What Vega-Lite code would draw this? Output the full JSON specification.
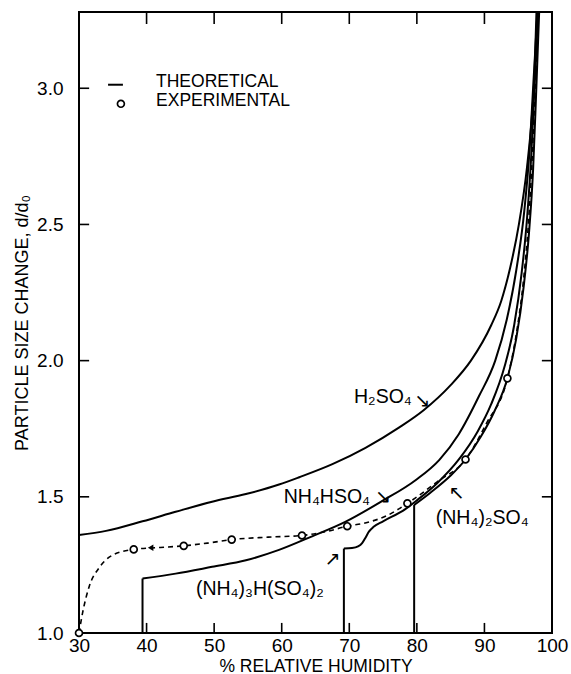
{
  "$schema": "https://vega.github.io/schema/vega-lite/v6.json",
  "width": 473,
  "height": 621,
  "autosize": {"type": "none"},
  "padding": {"left": 79, "top": 12, "right": 19, "bottom": 41},
  "background": "white",
  "config": {
    "view": {"stroke": "black", "strokeWidth": 2},
    "font": "Liberation Sans",
    "axis": {
      "grid": false,
      "domain": false,
      "ticks": false,
      "labelColor": "black",
      "labelFont": "Liberation Sans",
      "labelFontSize": 19,
      "labelFlush": false,
      "labelOverlap": false,
      "titleColor": "black",
      "titleFont": "Liberation Sans",
      "titleFontWeight": "normal"
    }
  },
  "datasets": {
    "curves": [
      {"s": "H2SO4", "x": 30, "y": 1.36}, {"s": "H2SO4", "x": 34, "y": 1.375}, {"s": "H2SO4", "x": 39.4, "y": 1.41},
      {"s": "H2SO4", "x": 44.3, "y": 1.445}, {"s": "H2SO4", "x": 49.7, "y": 1.482}, {"s": "H2SO4", "x": 54.7, "y": 1.51},
      {"s": "H2SO4", "x": 59.6, "y": 1.545}, {"s": "H2SO4", "x": 62.6, "y": 1.572}, {"s": "H2SO4", "x": 67.5, "y": 1.62},
      {"s": "H2SO4", "x": 72.4, "y": 1.68}, {"s": "H2SO4", "x": 77.4, "y": 1.755}, {"s": "H2SO4", "x": 81, "y": 1.818},
      {"s": "H2SO4", "x": 85, "y": 1.91}, {"s": "H2SO4", "x": 88, "y": 2.0}, {"s": "H2SO4", "x": 91, "y": 2.13},
      {"s": "H2SO4", "x": 92.5, "y": 2.22}, {"s": "H2SO4", "x": 93.8, "y": 2.34}, {"s": "H2SO4", "x": 95.1, "y": 2.5},
      {"s": "H2SO4", "x": 96.3, "y": 2.71}, {"s": "H2SO4", "x": 97, "y": 2.89}, {"s": "H2SO4", "x": 97.4, "y": 3.04},
      {"s": "H2SO4", "x": 97.7, "y": 3.28},
      {"s": "NH4HSO4", "x": 39.4, "y": 1.2}, {"s": "NH4HSO4", "x": 44.3, "y": 1.218}, {"s": "NH4HSO4", "x": 49.7, "y": 1.243},
      {"s": "NH4HSO4", "x": 54.7, "y": 1.267}, {"s": "NH4HSO4", "x": 59.6, "y": 1.305}, {"s": "NH4HSO4", "x": 64.5, "y": 1.355},
      {"s": "NH4HSO4", "x": 69.4, "y": 1.408}, {"s": "NH4HSO4", "x": 74.9, "y": 1.485}, {"s": "NH4HSO4", "x": 79.8, "y": 1.561},
      {"s": "NH4HSO4", "x": 83.3, "y": 1.635}, {"s": "NH4HSO4", "x": 86.2, "y": 1.73}, {"s": "NH4HSO4", "x": 89.2, "y": 1.87},
      {"s": "NH4HSO4", "x": 91.6, "y": 2.0}, {"s": "NH4HSO4", "x": 93.3, "y": 2.15}, {"s": "NH4HSO4", "x": 94.7, "y": 2.33},
      {"s": "NH4HSO4", "x": 95.9, "y": 2.55}, {"s": "NH4HSO4", "x": 96.7, "y": 2.78}, {"s": "NH4HSO4", "x": 97.2, "y": 3.0},
      {"s": "NH4HSO4", "x": 97.85, "y": 3.28},
      {"s": "LET", "x": 69.2, "y": 1.31}, {"s": "LET", "x": 70.4, "y": 1.312}, {"s": "LET", "x": 71.3, "y": 1.318},
      {"s": "LET", "x": 71.9, "y": 1.33}, {"s": "LET", "x": 72.4, "y": 1.35}, {"s": "LET", "x": 72.9, "y": 1.372},
      {"s": "LET", "x": 73.6, "y": 1.39}, {"s": "LET", "x": 75, "y": 1.41}, {"s": "LET", "x": 78.3, "y": 1.455},
      {"s": "LET", "x": 80, "y": 1.487}, {"s": "LET", "x": 83, "y": 1.55}, {"s": "LET", "x": 86.3, "y": 1.64},
      {"s": "LET", "x": 89, "y": 1.74}, {"s": "LET", "x": 91, "y": 1.84}, {"s": "LET", "x": 93, "y": 1.98},
      {"s": "LET", "x": 94.4, "y": 2.13}, {"s": "LET", "x": 95.5, "y": 2.32}, {"s": "LET", "x": 96.3, "y": 2.52},
      {"s": "LET", "x": 96.9, "y": 2.74}, {"s": "LET", "x": 97.4, "y": 3.0}, {"s": "LET", "x": 97.95, "y": 3.28},
      {"s": "AS", "x": 79.6, "y": 1.47}, {"s": "AS", "x": 82, "y": 1.515}, {"s": "AS", "x": 85, "y": 1.578},
      {"s": "AS", "x": 87.2, "y": 1.637}, {"s": "AS", "x": 89.5, "y": 1.722}, {"s": "AS", "x": 91.5, "y": 1.815},
      {"s": "AS", "x": 93.4, "y": 1.935}, {"s": "AS", "x": 94.7, "y": 2.08}, {"s": "AS", "x": 95.8, "y": 2.27},
      {"s": "AS", "x": 96.6, "y": 2.47}, {"s": "AS", "x": 97.2, "y": 2.7}, {"s": "AS", "x": 97.65, "y": 2.98},
      {"s": "AS", "x": 98.1, "y": 3.28}
    ],
    "verts": [
      {"x": 39.4, "y": 1.0, "y2": 1.2},
      {"x": 69.2, "y": 1.0, "y2": 1.31},
      {"x": 79.6, "y": 1.0, "y2": 1.47}
    ],
    "ticks": [
      {"x": 40, "x2": 40, "y": 1.0, "y2": 1.037}, {"x": 50, "x2": 50, "y": 1.0, "y2": 1.037},
      {"x": 60, "x2": 60, "y": 1.0, "y2": 1.037}, {"x": 70, "x2": 70, "y": 1.0, "y2": 1.037},
      {"x": 80, "x2": 80, "y": 1.0, "y2": 1.037}, {"x": 90, "x2": 90, "y": 1.0, "y2": 1.037},
      {"x": 40, "x2": 40, "y": 3.236, "y2": 3.28}, {"x": 50, "x2": 50, "y": 3.236, "y2": 3.28},
      {"x": 60, "x2": 60, "y": 3.236, "y2": 3.28}, {"x": 70, "x2": 70, "y": 3.236, "y2": 3.28},
      {"x": 80, "x2": 80, "y": 3.236, "y2": 3.28}, {"x": 90, "x2": 90, "y": 3.236, "y2": 3.28},
      {"x": 30, "x2": 31.5, "y": 1.5, "y2": 1.5}, {"x": 30, "x2": 31.5, "y": 2.0, "y2": 2.0},
      {"x": 30, "x2": 31.5, "y": 2.5, "y2": 2.5}, {"x": 30, "x2": 31.5, "y": 3.0, "y2": 3.0},
      {"x": 98.5, "x2": 100, "y": 1.5, "y2": 1.5}, {"x": 98.5, "x2": 100, "y": 2.0, "y2": 2.0},
      {"x": 98.5, "x2": 100, "y": 2.5, "y2": 2.5}, {"x": 98.5, "x2": 100, "y": 3.0, "y2": 3.0}
    ],
    "exp": [
      {"x": 30, "y": 1.0}, {"x": 30.5, "y": 1.07}, {"x": 31.5, "y": 1.17}, {"x": 33, "y": 1.24}, {"x": 34.9, "y": 1.285},
      {"x": 38.1, "y": 1.307}, {"x": 42, "y": 1.314}, {"x": 45.5, "y": 1.32}, {"x": 49, "y": 1.33}, {"x": 52.6, "y": 1.343},
      {"x": 58, "y": 1.352}, {"x": 63, "y": 1.358}, {"x": 66.5, "y": 1.372}, {"x": 69.7, "y": 1.392}, {"x": 72.5, "y": 1.405},
      {"x": 75.5, "y": 1.43}, {"x": 78.6, "y": 1.476}, {"x": 83, "y": 1.555}, {"x": 87.2, "y": 1.637}, {"x": 90.3, "y": 1.77},
      {"x": 93.4, "y": 1.935}, {"x": 94.8, "y": 2.11}, {"x": 95.8, "y": 2.3}, {"x": 96.5, "y": 2.5}, {"x": 97.1, "y": 2.76},
      {"x": 97.5, "y": 3.0}, {"x": 98.0, "y": 3.28}
    ],
    "pts": [
      {"x": 30, "y": 1.0}, {"x": 38.1, "y": 1.307}, {"x": 45.5, "y": 1.32}, {"x": 52.6, "y": 1.343}, {"x": 63, "y": 1.358},
      {"x": 69.7, "y": 1.392}, {"x": 78.6, "y": 1.476}, {"x": 87.2, "y": 1.637}, {"x": 93.4, "y": 1.935},
      {"x": 36.2, "y": 2.943}
    ],
    "dirarrow": [{"x": 40.6, "y": 1.313}],
    "legline": [{"x": 34.3, "x2": 36.5, "y": 3.013}],
    "labels": [
      {"t": "H₂SO₄", "x": 70.7, "y": 1.866},
      {"t": "NH₄HSO₄", "x": 60.3, "y": 1.499},
      {"t": "(NH₄)₂SO₄", "x": 82.8, "y": 1.422},
      {"t": "(NH₄)₃H(SO₄)₂", "x": 47.3, "y": 1.16}
    ],
    "arrows": [
      {"t": "↘", "x": 80.8, "y": 1.852},
      {"t": "↘", "x": 75.0, "y": 1.5},
      {"t": "↖", "x": 85.9, "y": 1.515},
      {"t": "↗", "x": 67.5, "y": 1.271}
    ],
    "legtext": [
      {"t": "THEORETICAL", "x": 41.4, "y": 3.024},
      {"t": "EXPERIMENTAL", "x": 41.4, "y": 2.952}
    ]
  },
  "layer": [
    {
      "data": {"name": "curves"},
      "mark": {"type": "line", "color": "black", "strokeWidth": 2, "interpolate": "monotone"},
      "encoding": {
        "x": {
          "field": "x", "type": "quantitative",
          "scale": {"domain": [30, 100], "nice": false, "zero": false},
          "axis": {
            "orient": "bottom", "values": [30, 40, 50, 60, 70, 80, 90, 100], "format": "d",
            "labelPadding": 3,
            "title": "% RELATIVE HUMIDITY", "titleFontSize": 17.5, "titlePadding": 2
          }
        },
        "y": {
          "field": "y", "type": "quantitative",
          "scale": {"domain": [1.0, 3.28], "nice": false, "zero": false},
          "axis": {
            "orient": "left", "values": [1.0, 1.5, 2.0, 2.5, 3.0], "format": ".1f",
            "labelPadding": 16,
            "title": "PARTICLE SIZE CHANGE, d/d₀", "titleFontSize": 18, "titlePadding": 5
          }
        },
        "detail": {"field": "s", "type": "nominal"}
      }
    },
    {
      "data": {"name": "verts"},
      "mark": {"type": "rule", "color": "black", "strokeWidth": 2},
      "encoding": {
        "x": {"field": "x", "type": "quantitative", "axis": null},
        "y": {"field": "y", "type": "quantitative", "axis": null},
        "y2": {"field": "y2"}
      }
    },
    {
      "data": {"name": "ticks"},
      "mark": {"type": "rule", "color": "black", "strokeWidth": 1.6},
      "encoding": {
        "x": {"field": "x", "type": "quantitative", "axis": null},
        "x2": {"field": "x2"},
        "y": {"field": "y", "type": "quantitative", "axis": null},
        "y2": {"field": "y2"}
      }
    },
    {
      "data": {"name": "exp"},
      "mark": {"type": "line", "color": "black", "strokeWidth": 1.6, "strokeDash": [5, 4], "interpolate": "monotone"},
      "encoding": {
        "x": {"field": "x", "type": "quantitative", "axis": null},
        "y": {"field": "y", "type": "quantitative", "axis": null}
      }
    },
    {
      "data": {"name": "legline"},
      "mark": {"type": "rule", "color": "black", "strokeWidth": 2},
      "encoding": {
        "x": {"field": "x", "type": "quantitative", "axis": null},
        "x2": {"field": "x2"},
        "y": {"field": "y", "type": "quantitative", "axis": null}
      }
    },
    {
      "data": {"name": "pts"},
      "mark": {"type": "point", "shape": "circle", "filled": true, "fill": "white", "stroke": "black", "strokeWidth": 1.7, "size": 48, "opacity": 1, "clip": false},
      "encoding": {
        "x": {"field": "x", "type": "quantitative", "axis": null},
        "y": {"field": "y", "type": "quantitative", "axis": null}
      }
    },
    {
      "data": {"name": "dirarrow"},
      "mark": {"type": "point", "shape": "triangle-left", "filled": true, "color": "black", "size": 40, "opacity": 1},
      "encoding": {
        "x": {"field": "x", "type": "quantitative", "axis": null},
        "y": {"field": "y", "type": "quantitative", "axis": null}
      }
    },
    {
      "data": {"name": "labels"},
      "mark": {"type": "text", "align": "left", "baseline": "middle", "fontSize": 19.5, "color": "black", "font": "Liberation Sans"},
      "encoding": {
        "x": {"field": "x", "type": "quantitative", "axis": null},
        "y": {"field": "y", "type": "quantitative", "axis": null},
        "text": {"field": "t"}
      }
    },
    {
      "data": {"name": "arrows"},
      "mark": {"type": "text", "align": "center", "baseline": "middle", "fontSize": 19, "color": "black", "font": "DejaVu Sans"},
      "encoding": {
        "x": {"field": "x", "type": "quantitative", "axis": null},
        "y": {"field": "y", "type": "quantitative", "axis": null},
        "text": {"field": "t"}
      }
    },
    {
      "data": {"name": "legtext"},
      "mark": {"type": "text", "align": "left", "baseline": "middle", "fontSize": 17.5, "color": "black", "font": "Liberation Sans"},
      "encoding": {
        "x": {"field": "x", "type": "quantitative", "axis": null},
        "y": {"field": "y", "type": "quantitative", "axis": null},
        "text": {"field": "t"}
      }
    }
  ],
  "resolve": {"axis": {"x": "independent", "y": "independent"}}
}
